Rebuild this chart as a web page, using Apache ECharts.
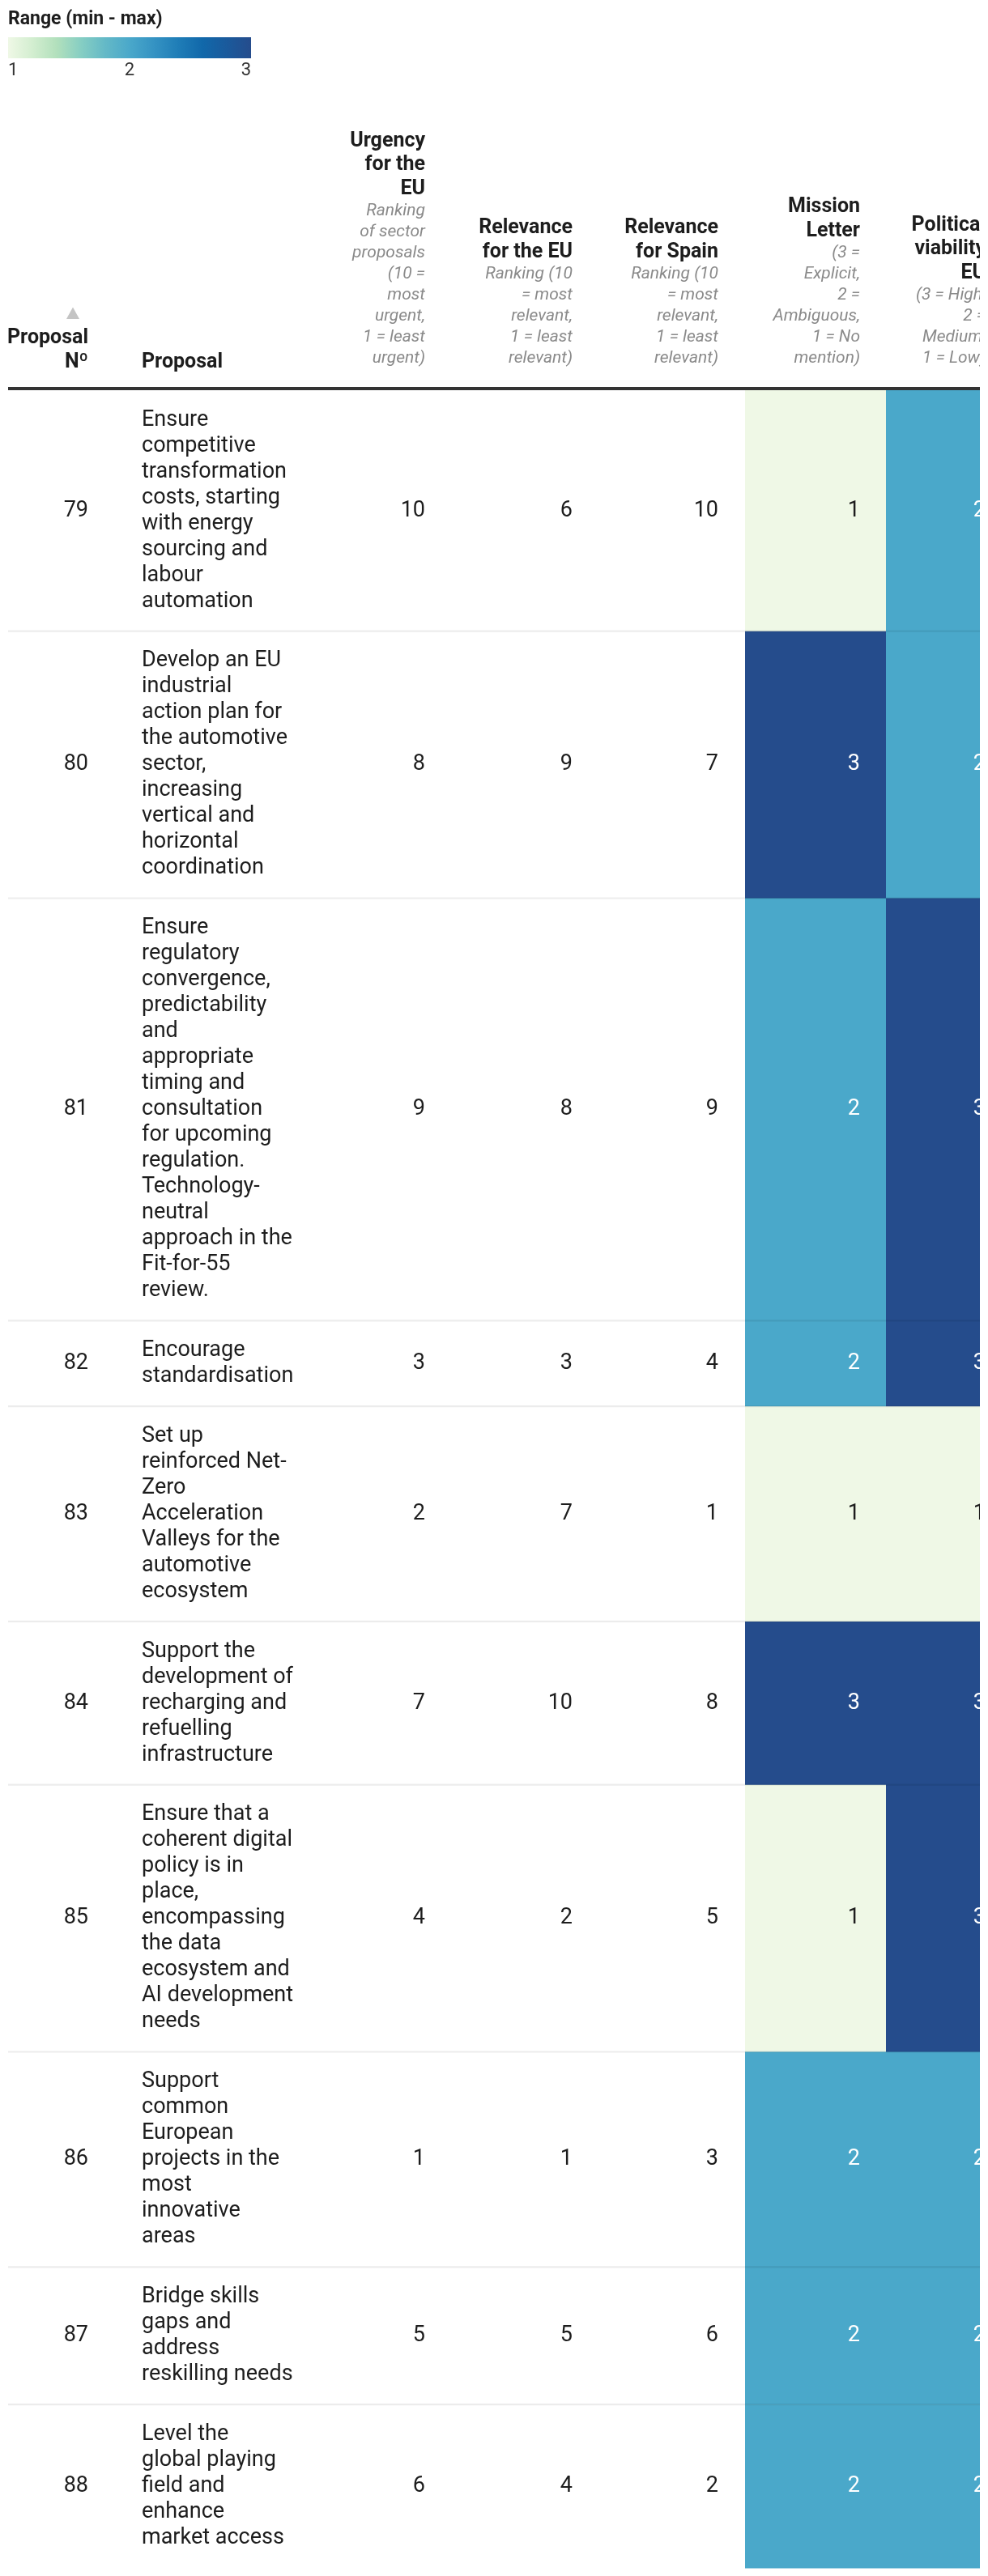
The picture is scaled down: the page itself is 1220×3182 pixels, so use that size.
<!DOCTYPE html>
<html>
<head>
<meta charset="utf-8">
<script src="https://cdn.jsdelivr.net/npm/echarts@6/dist/echarts.min.js"></script>
<style>
html,body{margin:0;padding:0;background:#fff;}
#chart{width:1210px;height:3182px;}
</style>
</head>
<body>
<div id="chart"></div>
<script>
// ---------------- DATA ----------------
const proposalNo = [79, 80, 81, 82, 83, 84, 85, 86, 87, 88];
const proposals = [
  "Ensure\ncompetitive\ntransformation\ncosts, starting\nwith energy\nsourcing and\nlabour\nautomation",
  "Develop an EU\nindustrial\naction plan for\nthe automotive\nsector,\nincreasing\nvertical and\nhorizontal\ncoordination",
  "Ensure\nregulatory\nconvergence,\npredictability\nand\nappropriate\ntiming and\nconsultation\nfor upcoming\nregulation.\nTechnology-\nneutral\napproach in the\nFit-for-55\nreview.",
  "Encourage\nstandardisation",
  "Set up\nreinforced Net-\nZero\nAcceleration\nValleys for the\nautomotive\necosystem",
  "Support the\ndevelopment of\nrecharging and\nrefuelling\ninfrastructure",
  "Ensure that a\ncoherent digital\npolicy is in\nplace,\nencompassing\nthe data\necosystem and\nAI development\nneeds",
  "Support\ncommon\nEuropean\nprojects in the\nmost\ninnovative\nareas",
  "Bridge skills\ngaps and\naddress\nreskilling needs",
  "Level the\nglobal playing\nfield and\nenhance\nmarket access"
];
const urgencyEU          = [10, 8, 9, 3, 2, 7, 4, 1, 5, 6];
const relevanceEU        = [6, 9, 8, 3, 7, 10, 2, 1, 5, 4];
const relevanceSpain     = [10, 7, 9, 4, 1, 8, 5, 3, 6, 2];
const missionLetter      = [1, 3, 2, 2, 1, 3, 1, 2, 2, 2];
const politicalViability = [2, 2, 3, 3, 1, 3, 3, 2, 2, 2];
const legendTicks = [1, 2, 3];
const legendTitle = "Range (min - max)";
const colTitles = [
  "Proposal\nNº", "Proposal", "Urgency\nfor the\nEU", "Relevance\nfor the EU",
  "Relevance\nfor Spain", "Mission\nLetter", "Political\nviability\nEU"
];
const colSubtitles = [
  "", "",
  "Ranking\nof sector\nproposals\n(10 =\nmost\nurgent,\n1 = least\nurgent)",
  "Ranking (10\n= most\nrelevant,\n1 = least\nrelevant)",
  "Ranking (10\n= most\nrelevant,\n1 = least\nrelevant)",
  "(3 =\nExplicit,\n2 =\nAmbiguous,\n1 = No\nmention)",
  "(3 = High,\n2 =\nMedium,\n1 = Low)"
];
const PALETTE = ["#eff8e6","#d3eed0","#b2e0bc","#86cec3","#64b9c7","#4aa8ca","#3593c3","#1f7db7","#1168aa","#1a5a9c","#254c8c"];

// ---------------- LAYOUT / STYLE ----------------
const FONT = "Roboto";
const BODY_SIZE = 27, TITLE_SIZE = 25, SUB_SIZE = 21, LEG_TITLE_SIZE = 23, LEG_LABEL_SIZE = 22;
const LINE_H = 32, ROW_PAD = 41.8, TABLE_TOP = 482;
const TEXT_COLOR = "#1d1d1d", SUB_COLOR = "#8a8a8a";
const COLS = [
  {kind: "no",   left: 10,   right: 140,  textRight: 109, values: proposalNo},
  {kind: "text", left: 140,  right: 378,  textLeft: 175,  values: proposals},
  {kind: "num",  left: 378,  right: 558,  textRight: 525, values: urgencyEU},
  {kind: "num",  left: 558,  right: 740,  textRight: 707, values: relevanceEU},
  {kind: "num",  left: 740,  right: 920,  textRight: 887, values: relevanceSpain},
  {kind: "heat", left: 920,  right: 1094, textRight: 1062, values: missionLetter},
  {kind: "heat", left: 1094, right: 1249, textRight: 1217, values: politicalViability}
];

const rowLines = proposals.map(p => p.split("\n").length);
const rowStart = [], rowEnd = [];
let acc = 0;
rowLines.forEach(n => { rowStart.push(acc); acc += n * LINE_H + ROW_PAD; rowEnd.push(acc); });
const TOTAL = acc;

function parseColor(c) {
  if (!c) return [0,0,0];
  if (c[0] === "#") {
    let h = c.slice(1);
    if (h.length === 3) h = h.split("").map(x => x + x).join("");
    return [parseInt(h.slice(0,2),16), parseInt(h.slice(2,4),16), parseInt(h.slice(4,6),16)];
  }
  const m = c.match(/[\d.]+/g);
  return m ? m.slice(0,3).map(Number) : [0,0,0];
}
function luminance(c) {
  const [r,g,b] = parseColor(c).map(v => { v /= 255; return v <= 0.03928 ? v/12.92 : Math.pow((v+0.055)/1.055, 2.4); });
  return 0.2126*r + 0.7152*g + 0.0722*b;
}

const grids = [], xAxes = [], yAxes = [], series = [];
const heatSeriesIdx = [];

COLS.forEach((c, k) => {
  grids.push({left: c.left, top: TABLE_TOP, width: c.right - c.left, height: TOTAL, containLabel: false, outerBoundsMode: "none"});
  xAxes.push({gridIndex: k, type: "category", data: [colTitles[k]], show: false});
  yAxes.push({gridIndex: k, type: "value", min: 0, max: TOTAL, inverse: true, show: false});
  const data = c.values.map((v, i) => [0, rowStart[i], rowEnd[i], (typeof v === "number") ? v : i]);
  if (c.kind === "heat") heatSeriesIdx.push(series.length);
  series.push({
    type: "custom",
    xAxisIndex: k, yAxisIndex: k,
    data: data,
    silent: true,
    z: 2,
    renderItem: function (params, api) {
      const p0 = api.coord([0, api.value(1)]);
      const y1 = api.coord([0, api.value(2)])[1];
      const bw = api.size([1, 0])[0];
      const x0 = p0[0] - bw / 2, x1 = p0[0] + bw / 2, y0 = p0[1];
      const cy = (y0 + y1) / 2;
      const shift = x0 - c.left;
      const children = [];
      let txtColor = TEXT_COLOR;
      if (c.kind === "heat") {
        const fill = api.visual("color");
        children.push({type: "rect", shape: {x: x0, y: y0, width: x1 - x0, height: y1 - y0 + 0.5}, style: {fill: fill}});
        txtColor = luminance(fill) < 0.55 ? "#ffffff" : TEXT_COLOR;
      }
      if (c.kind === "text") {
        children.push({type: "text", style: {
          text: c.values[params.dataIndex], x: c.textLeft + shift, y: cy,
          align: "left", verticalAlign: "middle", font: BODY_SIZE + "px " + FONT, lineHeight: LINE_H, fill: TEXT_COLOR}});
      } else {
        children.push({type: "text", style: {
          text: String(api.value(3)), x: c.textRight + shift, y: cy,
          align: "right", verticalAlign: "middle", font: BODY_SIZE + "px " + FONT, fill: txtColor}});
      }
      return {type: "group", children: children};
    }
  });
});

// separator grid
const SEP = COLS.length;
grids.push({left: 10, top: TABLE_TOP, width: 1200, height: TOTAL, outerBoundsMode: "none"});
xAxes.push({gridIndex: SEP, type: "category", data: ["sep"], show: false});
yAxes.push({gridIndex: SEP, type: "value", min: 0, max: TOTAL, inverse: true, show: false});
series.push({
  type: "custom", xAxisIndex: SEP, yAxisIndex: SEP, silent: true, z: 5,
  data: rowEnd.slice(0, rowEnd.length - 1).map(e => [0, e]),
  renderItem: function (params, api) {
    const y = api.coord([0, api.value(1)])[1];
    const cs = params.coordSys;
    return {type: "rect", shape: {x: cs.x, y: y - 1.2, width: cs.width, height: 2.2}, style: {fill: "rgba(0,0,0,0.075)"}};
  }
});

// legend grid
const LEG = COLS.length + 1;
grids.push({left: 10, top: 46, width: 300, height: 26, outerBoundsMode: "none"});
xAxes.push({
  gridIndex: LEG, type: "value", min: legendTicks[0], max: legendTicks[legendTicks.length - 1], interval: 1,
  axisLine: {show: false}, axisTick: {show: false}, splitLine: {show: false},
  axisLabel: {show: true, fontSize: LEG_LABEL_SIZE, fontFamily: FONT, color: "#333", margin: 4, alignMinLabel: "left", alignMaxLabel: "right"}
});
yAxes.push({gridIndex: LEG, type: "value", min: 0, max: 1, show: false});
series.push({
  type: "custom", xAxisIndex: LEG, yAxisIndex: LEG, silent: true,
  data: [[legendTicks[0], legendTicks[legendTicks.length - 1]]],
  renderItem: function (params, api) {
    const xa = api.coord([api.value(0), 0])[0];
    const xb = api.coord([api.value(1), 0])[0];
    const cs = params.coordSys;
    const stops = PALETTE.map((col, i) => ({offset: i / (PALETTE.length - 1), color: col}));
    return {type: "rect", shape: {x: xa, y: cs.y, width: xb - xa, height: cs.height},
      style: {fill: new echarts.graphic.LinearGradient(0, 0, 1, 0, stops)}};
  }
});

// header graphics
const elements = [];
function addText(str, x, baseline, font, size, color, align) {
  elements.push({type: "text", x: x, y: baseline - 0.342 * size, silent: true,
    style: {text: str, font: font, fill: color, align: align, textAlign: align,
      verticalAlign: "middle", textVerticalAlign: "middle"}});
}
addText(legendTitle, 10, 32, "bold " + LEG_TITLE_SIZE + "px " + FONT, LEG_TITLE_SIZE, TEXT_COLOR, "left");

const SUB_LAST = 450, SUB_LH = 26, TITLE_LH = 29.5, SUB_GAP = 26, NO_SUB_LAST = 456;
COLS.forEach((c, k) => {
  const tl = colTitles[k].split("\n");
  const sl = colSubtitles[k] ? colSubtitles[k].split("\n") : [];
  const align = c.kind === "text" ? "left" : "right";
  const x = c.kind === "text" ? c.textLeft : c.textRight;
  sl.forEach((s, j) => addText(s, x, SUB_LAST - (sl.length - 1 - j) * SUB_LH, "italic " + SUB_SIZE + "px " + FONT, SUB_SIZE, SUB_COLOR, align));
  const lastT = sl.length ? SUB_LAST - (sl.length - 1) * SUB_LH - SUB_GAP : NO_SUB_LAST;
  tl.forEach((t, j) => addText(t, x, lastT - (tl.length - 1 - j) * TITLE_LH, "bold " + TITLE_SIZE + "px " + FONT, TITLE_SIZE, TEXT_COLOR, align));
});
// sort indicator
elements.push({type: "polygon", silent: true, shape: {points: [[82, 394], [98, 394], [90, 379.5]]}, style: {fill: "#c4c4c4"}});
// header rule
elements.push({type: "rect", silent: true, shape: {x: 10, y: 478, width: 1200, height: 4}, style: {fill: "#333333"}, z: 10});

const chart = echarts.init(document.getElementById("chart"), null, {renderer: "canvas"});
chart.setOption({
  animation: false,
  backgroundColor: "#ffffff",
  textStyle: {fontFamily: FONT},
  grid: grids,
  xAxis: xAxes,
  yAxis: yAxes,
  visualMap: {
    type: "continuous", show: false, min: legendTicks[0], max: legendTicks[legendTicks.length - 1],
    dimension: 3, seriesIndex: heatSeriesIdx, inRange: {color: PALETTE}
  },
  graphic: {elements: elements},
  series: series
});
</script>
</body>
</html>
